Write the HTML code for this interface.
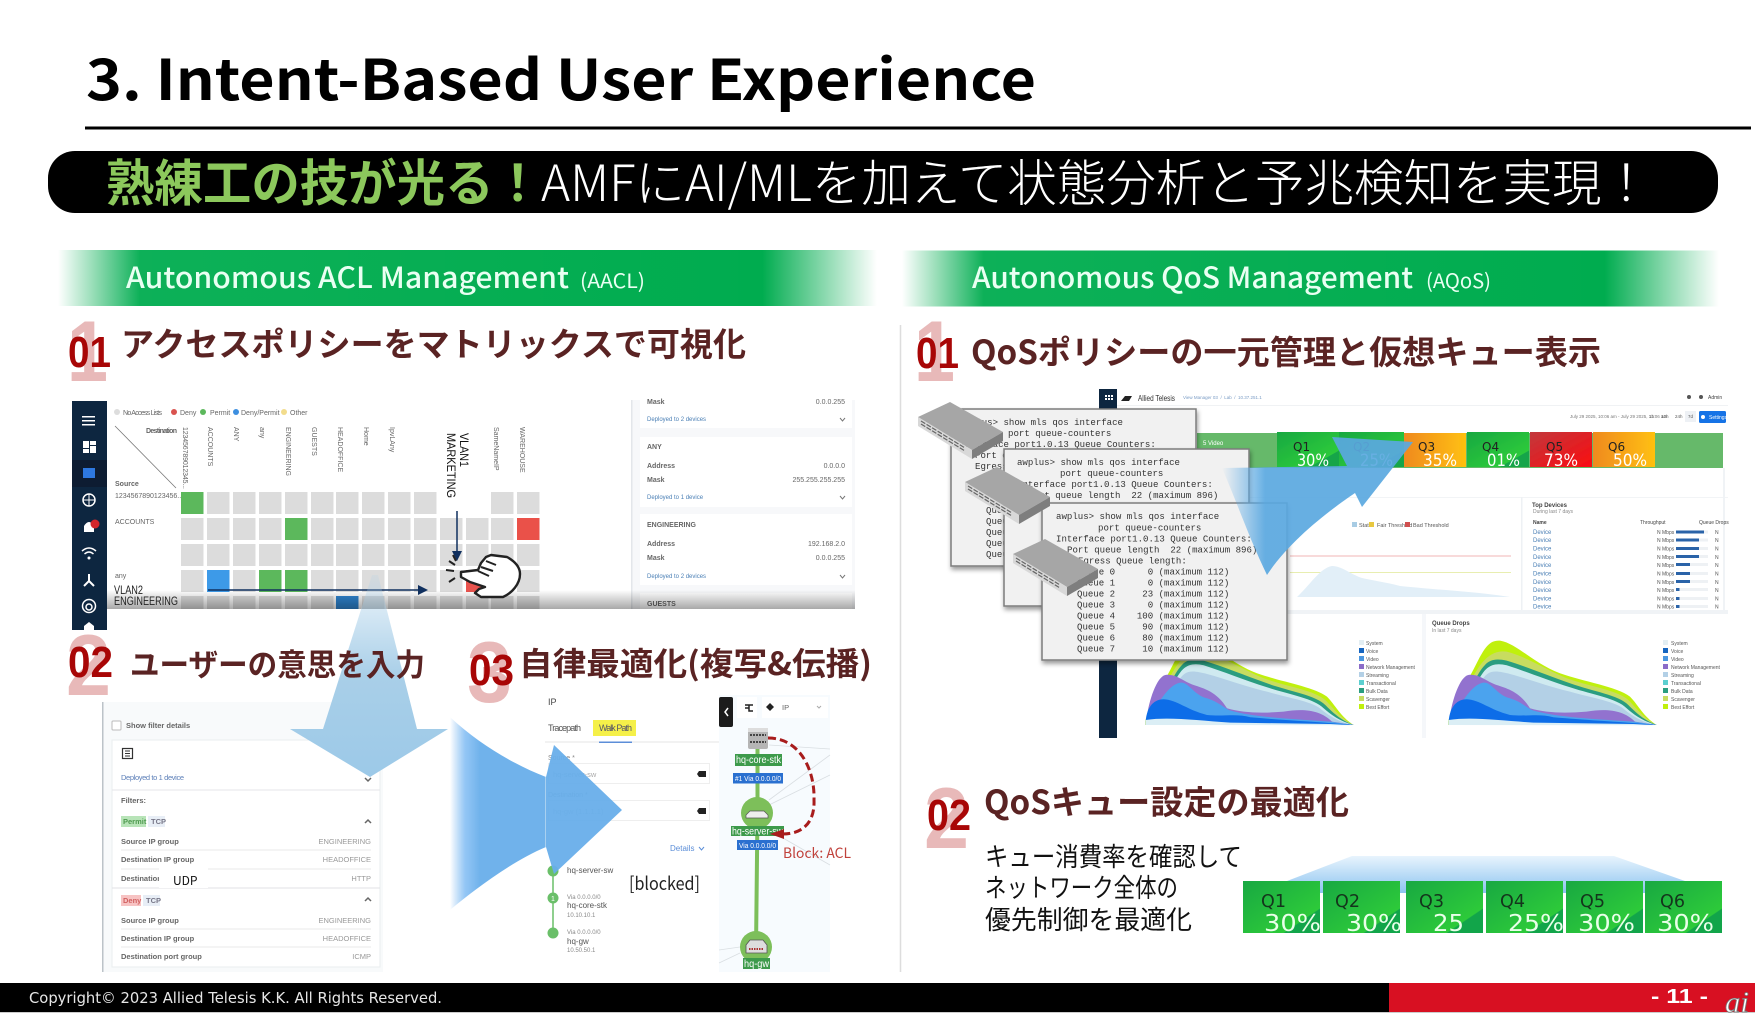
<!DOCTYPE html>
<html lang="ja"><head><meta charset="utf-8"><title>3. Intent-Based User Experience</title>
<style>
html,body{margin:0;padding:0;background:#fff;width:1755px;height:1021px;overflow:hidden}
svg{display:block;position:absolute;left:0;top:0}
text{font-family:"Liberation Sans","Noto Sans CJK JP",sans-serif;white-space:pre}
.j{font-family:"Noto Sans CJK JP","Liberation Sans",sans-serif}
.jb{font-family:"Noto Sans CJK JP","Liberation Sans",sans-serif;font-weight:700}
.h{font-family:"Noto Sans CJK JP","Liberation Sans",sans-serif;font-weight:700;fill:#5a2323}
.pale{font-weight:700;fill:#e8b9b9;font-size:86px}
.num{font-weight:700;fill:#a80606;font-size:44px}
.m{font-family:"Liberation Mono",monospace;font-size:9.07px;fill:#333}
.s{font-size:7px;fill:#666}
.b{font-weight:700}
.t{font-size:7px;fill:#666}
.bl{fill:#5c7fb8}
.f{font-size:7.5px;fill:#666;font-weight:700}
.fr{font-size:7.5px;fill:#999;text-anchor:end}
.d{font-size:6px;fill:#4a7fb5}
.lab{fill:#fff;font-size:10px}
.q{fill:#222;font-size:12px;font-family:"DejaVu Sans",sans-serif}
.p{fill:#fff;font-size:17px;font-family:"DejaVu Sans",sans-serif}
.q2{fill:#14351c;font-size:18px;font-family:"DejaVu Sans",sans-serif}
.p2{fill:#e9ffe9;font-size:23px;font-family:"DejaVu Sans",sans-serif}
</style></head><body>
<svg width="1755" height="1021" viewBox="0 0 1755 1021" xmlns="http://www.w3.org/2000/svg">
<defs>
<linearGradient id="gbar" x1="0" x2="1" y1="0" y2="0"><stop offset="0" stop-color="#00ac4f" stop-opacity="0"/><stop offset=".1" stop-color="#00ac4f" stop-opacity=".95"/><stop offset=".86" stop-color="#00ac4f"/><stop offset="1" stop-color="#00ac4f" stop-opacity="0"/></linearGradient>
<linearGradient id="gdown" x1="0" x2="0" y1="0" y2="1"><stop offset="0" stop-color="#a3cce8" stop-opacity=".15"/><stop offset=".5" stop-color="#a9cfe8"/><stop offset="1" stop-color="#9cc9e8"/></linearGradient>
<linearGradient id="gright" gradientUnits="userSpaceOnUse" x1="450" x2="480" y1="0" y2="0"><stop offset="0" stop-color="#7ab8f0" stop-opacity="0"/><stop offset=".5" stop-color="#88c0f4" stop-opacity=".9"/><stop offset="1" stop-color="#68aeea" stop-opacity=".95"/></linearGradient>
<linearGradient id="gup" gradientUnits="userSpaceOnUse" x1="1222" x2="1265" y1="0" y2="0"><stop offset="0" stop-color="#5aaae8" stop-opacity="0"/><stop offset="1" stop-color="#5aa8e0" stop-opacity=".92"/></linearGradient>
<linearGradient id="gfade" x1="0" x2="0" y1="0" y2="1"><stop offset="0" stop-color="#000" stop-opacity="0"/><stop offset="1" stop-color="#000" stop-opacity=".34"/></linearGradient>
<linearGradient id="gtrap" x1="0" x2="0" y1="0" y2="1"><stop offset="0" stop-color="#e8f4fd"/><stop offset="1" stop-color="#8cc4f0"/></linearGradient>
<linearGradient id="qg" x1="0" x2="1" y1="0" y2="1"><stop offset="0" stop-color="#18a842"/><stop offset=".76" stop-color="#2dca3a"/><stop offset=".77" stop-color="#12a54a"/><stop offset="1" stop-color="#12a54a"/></linearGradient>
<linearGradient id="qo" x1="0" x2="1" y1="0" y2="0"><stop offset="0" stop-color="#ef8a20"/><stop offset="1" stop-color="#ffc010"/></linearGradient>
<linearGradient id="qr" x1="0" x2="1" y1="0" y2="1"><stop offset="0" stop-color="#c2383c"/><stop offset="1" stop-color="#fb0c10"/></linearGradient>
<filter id="sh" x="-10%" y="-10%" width="120%" height="120%"><feDropShadow dx="1" dy="3" stdDeviation="2.5" flood-color="#000" flood-opacity=".4"/></filter>
<filter id="bl"><feGaussianBlur stdDeviation=".35"/></filter>
<g id="sw">
<path d="M918 417 L950 402 L1003 432 L972 450Z" fill="#a6a6a6"/>
<path d="M918 417 L972 450 L972 459 L918 426Z" fill="#d8d8d8"/>
<path d="M972 450 L1003 432 L1003 441 L972 459Z" fill="#7e7e7e"/>
<path d="M921 421 L965 448 M921 424 L965 451" stroke="#666" stroke-width="1.2" stroke-dasharray="5 1.5" fill="none"/>
</g>
<g id="chart" transform="translate(1300 380) scale(.3333)">
<path d="M445 1022C470 960 510 890 530 850C555 800 570 780 600 782C650 790 700 850 780 880C850 905 950 920 990 950C1015 975 1030 1010 1070 1035L445 1035Z" fill="#c0f010"/>
<path d="M460 1022C490 950 520 880 545 850C565 825 590 810 620 815C680 830 740 870 800 895C870 920 950 930 985 960C1010 985 1030 1015 1070 1035L460 1035Z" fill="#c8dc60"/>
<path d="M470 1022C500 950 530 880 555 855C570 838 590 835 620 842C680 860 740 885 810 910C880 935 955 945 985 975C1005 995 1030 1020 1070 1035L470 1035Z" fill="#2a9d80"/>
<path d="M475 1022C505 960 535 890 558 868C575 852 595 850 620 856C680 875 740 900 810 922C880 945 950 955 980 985C1000 1003 1030 1025 1070 1035L475 1035Z" fill="#cfeaf0"/>
<path d="M478 1022C508 965 538 900 562 882C580 870 600 875 630 882C690 898 740 918 810 935C880 955 950 965 975 990C1000 1010 1030 1028 1070 1035L478 1035Z" fill="#b3d0e6"/>
<path d="M448 1022C455 960 480 890 505 885C535 880 560 905 590 915C620 925 660 935 690 985C740 1000 800 1000 860 995C920 985 970 990 1005 1025L1070 1035L448 1035Z" fill="#9272cf"/>
<path d="M450 1022C480 980 510 915 550 908C575 905 590 945 630 955C660 965 670 975 695 990C760 1010 850 1015 1000 1025L1070 1035L450 1035Z" fill="#4ba3ee"/>
<path d="M446 1025C450 975 475 958 500 958C540 960 570 990 630 1005C680 1010 720 1000 760 1012C850 1020 950 1025 1070 1035L446 1035Z" fill="#0e6de8"/>
<path d="M446 1035L446 1020C520 1010 600 1022 700 1028L1000 1032L1070 1036Z" fill="#dbeef5"/>
</g>
</defs>

<!-- title -->
<text x="86" y="100" class="jb" font-size="56" fill="#000" textLength="950" lengthAdjust="spacingAndGlyphs">3. Intent-Based User Experience</text>
<rect x="85" y="126.500" width="1666" height="3" fill="#000"/>
<rect x="48" y="151" width="1670" height="62" rx="27" fill="#000"/>
<text x="106" y="201" class="jb" font-size="50" fill="#8cc85c" textLength="436" lengthAdjust="spacingAndGlyphs">熟練工の技が光る！</text>
<text x="541" y="201" class="j" font-size="50" fill="#fff" font-weight="300" textLength="1110" lengthAdjust="spacingAndGlyphs">AMFにAI/MLを加えて状態分析と予兆検知を実現！</text>

<rect x="58" y="250" width="819" height="56" fill="url(#gbar)"/>
<rect x="902" y="250.500" width="817" height="56" fill="url(#gbar)"/>
<text x="126" y="288" class="j" font-size="29" font-weight="500" fill="#e9fff2" textLength="443" lengthAdjust="spacingAndGlyphs">Autonomous ACL Management</text>
<text x="580" y="288" class="j" font-size="20" fill="#e9fff2" textLength="65" lengthAdjust="spacingAndGlyphs">(AACL)</text>
<text x="972" y="288" class="j" font-size="29" font-weight="500" fill="#e9fff2" textLength="441" lengthAdjust="spacingAndGlyphs">Autonomous QoS Management</text>
<text x="1426" y="288" class="j" font-size="20" fill="#e9fff2" textLength="65" lengthAdjust="spacingAndGlyphs">(AQoS)</text>
<line x1="900.500" y1="325" x2="900.500" y2="972" stroke="#ddd" stroke-width="1.500"/>

<!-- left top screenshot -->
<g filter="url(#bl)">
<rect x="72" y="401" width="35" height="229" fill="#10263f"/>
<rect x="72" y="460" width="35" height="27" fill="#0a1a30"/>
<g fill="#fff">
<rect x="82" y="416" width="13" height="1.500"/><rect x="82" y="420" width="13" height="1.500"/><rect x="82" y="424" width="13" height="1.500"/>
<rect x="83" y="441" width="6" height="7"/><rect x="90" y="441" width="6" height="4"/><rect x="83" y="449" width="6" height="4"/><rect x="90" y="446" width="6" height="7"/>
<rect x="83" y="468" width="12" height="10" fill="#2f78e0"/>
<circle cx="89" cy="500" r="6" fill="none" stroke="#fff" stroke-width="1.500"/><line x1="83" y1="500" x2="95" y2="500" stroke="#fff"/><line x1="89" y1="494" x2="89" y2="506" stroke="#fff"/>
<path d="M84 532 L84 526 Q89 518 94 526 L94 532Z"/><circle cx="95" cy="524" r="4.500" fill="#d3282c"/>
<path d="M82 551 Q89 545 96 551 M84.500 554 Q89 550 93.500 554" fill="none" stroke="#fff" stroke-width="1.500"/><circle cx="89" cy="558" r="1.500"/>
<path d="M89 574 V581 L84 586 M89 581 L94 586" fill="none" stroke="#fff" stroke-width="2"/>
<circle cx="89" cy="606" r="6.500" fill="none" stroke="#fff" stroke-width="1.500"/><circle cx="89" cy="607" r="3" fill="none" stroke="#fff" stroke-width="1.500"/>
<path d="M84 630 L84 626 L89 622 L94 626 L94 630Z"/>
</g>
<rect x="107" y="400" width="748" height="209" fill="#fff"/>
<!-- legend -->
<circle cx="117" cy="412" r="3" fill="#ddd"/><circle cx="174" cy="412" r="3" fill="#d9534f"/><circle cx="203" cy="412" r="3" fill="#5cb85c"/><circle cx="236" cy="412" r="3" fill="#3d8fe0"/><circle cx="284" cy="412" r="3" fill="#f2dc8c"/>
<text class="t" x="123" y="415" textLength="39">No Access Lists</text><text class="t" x="180" y="415">Deny</text><text class="t" x="210" y="415">Permit</text><text class="t" x="241" y="415">Deny/Permit</text><text class="t" x="290" y="415">Other</text>
<text x="146" y="433" class="t b" fill="#444" textLength="31">Destination</text>
<text x="115" y="486" class="t b" fill="#444">Source</text>
<line x1="115" y1="426" x2="176" y2="488" stroke="#777" stroke-width=".8"/>
<text class="t" transform="translate(183 427) rotate(90)" textLength="62">123456789012345...</text>
<text class="t" transform="translate(208 427) rotate(90)">ACCOUNTS</text>
<text class="t" transform="translate(234 427) rotate(90)">ANY</text>
<text class="t" transform="translate(260 427) rotate(90)">any</text>
<text class="t" transform="translate(286 427) rotate(90)">ENGINEERING</text>
<text class="t" transform="translate(312 427) rotate(90)">GUESTS</text>
<text class="t" transform="translate(338 427) rotate(90)">HEADOFFICE</text>
<text class="t" transform="translate(364 427) rotate(90)">Home</text>
<text class="t" transform="translate(390 427) rotate(90)">IpvLAny</text>
<text class="t" transform="translate(494 427) rotate(90)">SameNameIP</text>
<text class="t" transform="translate(520 427) rotate(90)">WAREHOUSE</text>
<text class="t" x="115" y="498">1234567890123456..</text><text class="t" x="115" y="524">ACCOUNTS</text><text class="t" x="115" y="578">any</text>
<!-- grid -->
<g fill="#dcdcdc">
<path d="M181 492h22.500v22h-22.500zM207 492h22.500v22h-22.500zM233 492h22.500v22h-22.500zM259 492h22.500v22h-22.500zM285 492h22.500v22h-22.500zM311 492h22.500v22h-22.500zM336 492h22.500v22h-22.500zM362 492h22.500v22h-22.500zM388 492h22.500v22h-22.500zM414 492h22.500v22h-22.500zM491 492h22.500v22h-22.500zM517 492h22.500v22h-22.500z"/>
<path d="M181 518h22.500v22h-22.500zM207 518h22.500v22h-22.500zM233 518h22.500v22h-22.500zM259 518h22.500v22h-22.500zM311 518h22.500v22h-22.500zM336 518h22.500v22h-22.500zM362 518h22.500v22h-22.500zM388 518h22.500v22h-22.500zM414 518h22.500v22h-22.500zM440 518h22.500v22h-22.500zM466 518h22.500v22h-22.500zM491 518h22.500v22h-22.500z"/>
<path d="M181 544h22.500v22h-22.500zM207 544h22.500v22h-22.500zM233 544h22.500v22h-22.500zM259 544h22.500v22h-22.500zM285 544h22.500v22h-22.500zM311 544h22.500v22h-22.500zM336 544h22.500v22h-22.500zM362 544h22.500v22h-22.500zM388 544h22.500v22h-22.500zM414 544h22.500v22h-22.500zM440 544h22.500v22h-22.500zM466 544h22.500v22h-22.500zM491 544h22.500v22h-22.500zM517 544h22.500v22h-22.500z"/>
<path d="M181 570h22.500v22h-22.500zM233 570h22.500v22h-22.500zM311 570h22.500v22h-22.500zM336 570h22.500v22h-22.500zM362 570h22.500v22h-22.500zM388 570h22.500v22h-22.500zM414 570h22.500v22h-22.500zM440 570h22.500v22h-22.500zM491 570h22.500v22h-22.500zM517 570h22.500v22h-22.500z"/>
<path d="M181 596h22.500v13h-22.500zM207 596h22.500v13h-22.500zM233 596h22.500v13h-22.500zM259 596h22.500v13h-22.500zM285 596h22.500v13h-22.500zM311 596h22.500v13h-22.500zM362 596h22.500v13h-22.500zM388 596h22.500v13h-22.500zM414 596h22.500v13h-22.500zM440 596h22.500v13h-22.500zM466 596h22.500v13h-22.500zM491 596h22.500v13h-22.500zM517 596h22.500v13h-22.500z"/>
</g>
<rect x="181" y="492" width="22.500" height="22" fill="#5cb85c"/>
<rect x="285" y="518" width="22.500" height="22" fill="#5cb85c"/>
<rect x="517" y="518" width="22.500" height="22" fill="#ea5148"/>
<rect x="207" y="570" width="22.500" height="22" fill="#3d9ae8"/>
<rect x="259" y="570" width="22.500" height="22" fill="#5cb85c"/>
<rect x="285" y="570" width="22.500" height="22" fill="#5cb85c"/>
<rect x="466" y="570" width="22.500" height="22" fill="#e9534e"/>
<rect x="336" y="596" width="22.500" height="13" fill="#2f84d0"/>
<!-- right cards -->
<rect x="631" y="400" width="224" height="209" fill="#f7f8fa"/><rect x="631" y="400" width="1.500" height="209" fill="#e3e6ea"/>
<rect x="640" y="400" width="212" height="28" fill="#fff"/><rect x="640" y="437" width="212" height="70" fill="#fff"/><rect x="640" y="514" width="212" height="71" fill="#fff"/><rect x="640" y="593" width="212" height="16" fill="#fff"/>
<text class="t b" x="647" y="404">Mask</text><text class="t" x="845" y="404" text-anchor="end">0.0.0.255</text>
<text class="d" x="647" y="421">Deployed to 2 devices</text>
<text class="t b" x="647" y="449">ANY</text><text class="t b" x="647" y="468">Address</text><text class="t" x="845" y="468" text-anchor="end">0.0.0.0</text>
<text class="t b" x="647" y="482">Mask</text><text class="t" x="845" y="482" text-anchor="end">255.255.255.255</text>
<text class="d" x="647" y="499">Deployed to 1 device</text>
<text class="t b" x="647" y="527">ENGINEERING</text><text class="t b" x="647" y="546">Address</text><text class="t" x="845" y="546" text-anchor="end">192.168.2.0</text>
<text class="t b" x="647" y="560">Mask</text><text class="t" x="845" y="560" text-anchor="end">0.0.0.255</text>
<text class="d" x="647" y="578">Deployed to 2 devices</text>
<text class="t b" x="647" y="606">GUESTS</text>
<path d="M840 418l2.500 3 2.500-3M840 496l2.500 3 2.500-3M840 575l2.500 3 2.500-3" fill="none" stroke="#777"/>
<rect x="107" y="590" width="748" height="19" fill="url(#gfade)"/>
</g>
<text transform="translate(460 433) rotate(90)" font-size="12" fill="#111" textLength="34" lengthAdjust="spacingAndGlyphs">VLAN1</text>
<text transform="translate(447 433) rotate(90)" font-size="12" fill="#111" textLength="65" lengthAdjust="spacingAndGlyphs">MARKETING</text>
<text x="114" y="594" font-size="12" fill="#222" textLength="29" lengthAdjust="spacingAndGlyphs">VLAN2</text>
<text x="114" y="605" font-size="12" fill="#222" textLength="64" lengthAdjust="spacingAndGlyphs">ENGINEERING</text>
<line x1="457" y1="511" x2="457" y2="552" stroke="#10305f" stroke-width="1.500"/><path d="M452 551h10l-5 10z" fill="#10305f"/>
<line x1="208" y1="590" x2="420" y2="590" stroke="#10305f" stroke-width="1.500"/><path d="M418 585v10l10-5z" fill="#10305f"/>
<!-- hand -->
<path d="M461 572L478 570L481 563L486 557L491 555L507 557C516 562 520 568 520 574C520 584 512 593 503 597L481 597L475 593L479 589L485 587L470 582L461 577Z" fill="#fff" stroke="#222" stroke-width="2.400" stroke-linejoin="round"/>
<path d="M486 561L496 565M481 567L493 571M478 571L489 576" stroke="#222" stroke-width="2" fill="none"/>
<path d="M449 561l6 4M446 570l8 1M449 582l6-4M453 555l3 6" stroke="#222" stroke-width="2" fill="none"/>

<!-- headings left -->
<text x="67" y="381" class="pale" textLength="41" lengthAdjust="spacingAndGlyphs">1</text>
<text x="68" y="367" class="num" textLength="43" lengthAdjust="spacingAndGlyphs">01</text>
<text x="121" y="356" class="h" font-size="33" textLength="625" lengthAdjust="spacingAndGlyphs">アクセスポリシーをマトリックスで可視化</text>

<!-- filter panel -->
<g filter="url(#bl)">
<rect x="102" y="702" width="281" height="270" fill="#f8fafb"/><rect x="102" y="702" width="1.500" height="270" fill="#bcc3c8"/>
<rect x="112" y="721" width="9" height="9" rx="1" fill="#fff" stroke="#bbb"/>
<text class="f" x="126" y="728">Show filter details</text>
<rect x="112" y="740" width="268" height="227" fill="#fff" stroke="#eaedef"/>
<rect x="122.500" y="748.500" width="10" height="10" fill="none" stroke="#333" stroke-width="1.200"/><path d="M125 751h5M125 753.500h5M125 756h5" stroke="#333"/>
<text class="bl" font-size="7.500" x="121" y="780" textLength="63">Deployed to 1 device</text>
<path d="M365 778l3 3 3-3" stroke="#666" stroke-width="1.500" fill="none"/>
<line x1="112" y1="790" x2="380" y2="790" stroke="#e4e6e8"/>
<text class="f" x="121" y="803">Filters:</text>
<rect x="121" y="816" width="25" height="11" fill="#b8e4b8"/><text x="123" y="824" font-size="7.500" fill="#4f9a4f" font-weight="700">Permit</text>
<rect x="148" y="816" width="17" height="11" fill="#e8eef6"/><text x="151" y="824" font-size="7.500" fill="#778" font-weight="700">TCP</text>
<path d="M365 823l3-3 3 3M365 901l3-3 3 3" stroke="#666" stroke-width="1.500" fill="none"/>
<text class="f" x="121" y="844">Source IP group</text><text class="fr" x="371" y="844">ENGINEERING</text>
<line x1="121" y1="850" x2="371" y2="850" stroke="#e8e8e8"/>
<text class="f" x="121" y="862">Destination IP group</text><text class="fr" x="371" y="862">HEADOFFICE</text>
<line x1="121" y1="869" x2="371" y2="869" stroke="#e8e8e8"/>
<text class="f" x="121" y="881">Destination port group</text><text class="fr" x="371" y="881">HTTP</text>
<line x1="112" y1="888" x2="380" y2="888" stroke="#e0e2e4"/>
<rect x="121" y="895" width="20" height="11" fill="#f7c3c3"/><text x="123" y="903" font-size="7.500" fill="#d16060" font-weight="700">Deny</text>
<rect x="143" y="895" width="17" height="11" fill="#e8eef6"/><text x="146" y="903" font-size="7.500" fill="#778" font-weight="700">TCP</text>
<text class="f" x="121" y="923">Source IP group</text><text class="fr" x="371" y="923">ENGINEERING</text>
<line x1="121" y1="929" x2="371" y2="929" stroke="#e8e8e8"/>
<text class="f" x="121" y="941">Destination IP group</text><text class="fr" x="371" y="941">HEADOFFICE</text>
<line x1="121" y1="947" x2="371" y2="947" stroke="#e8e8e8"/>
<text class="f" x="121" y="959">Destination port group</text><text class="fr" x="371" y="959">ICMP</text>
</g>
<rect x="159" y="868" width="49" height="20" fill="#fff"/>
<text x="173" y="885" font-size="12" fill="#111" class="j">UDP</text>

<!-- tracepath panel -->
<g filter="url(#bl)">
<text x="548" y="705" font-size="9" fill="#444">IP</text>
<text x="548" y="731" font-size="9" fill="#555" textLength="33">Tracepath</text>
<rect x="593" y="720" width="43" height="16" fill="#f5f04a"/>
<text x="599" y="731" font-size="9" fill="#556" textLength="33">Walk Path</text>
<line x1="545" y1="742" x2="720" y2="742" stroke="#e4e4e4"/><rect x="599" y="741.500" width="33" height="1.500" fill="#5b8ed8"/>
<text x="548" y="760" font-size="7" fill="#888">Source *</text>
<rect x="548.500" y="763.500" width="161" height="20" fill="#fff" stroke="#eee"/><text x="553" y="777" font-size="7.500" fill="#aaa">hq-server-sw</text>
<path d="M699 771h7v6h-7l-2-3z" fill="#222"/>
<text x="548" y="797" font-size="7" fill="#888">Destination *</text>
<rect x="548.500" y="800.500" width="161" height="20" fill="#fff" stroke="#eee"/><text x="553" y="814" font-size="7.500" fill="#bbb">hq-gw (1.1.1.1)</text>
<path d="M699 808h7v6h-7l-2-3z" fill="#222"/>
<text x="670" y="851" font-size="8" fill="#5b8ed8">Details</text><path d="M699 847l2.500 3 2.500-3" stroke="#5b8ed8" fill="none"/>
<line x1="553" y1="871" x2="553" y2="933" stroke="#6abf69" stroke-width="1.500"/>
<circle cx="553" cy="871" r="5.500" fill="#6abf69"/><circle cx="553" cy="898" r="5.500" fill="#6abf69"/><circle cx="553" cy="933" r="5.500" fill="#6abf69"/>
<text x="551" y="901" font-size="7" fill="#fff">1</text>
<text x="567" y="873" font-size="8" fill="#555">hq-server-sw</text>
<text x="567" y="899" font-size="6" fill="#888">Via 0.0.0.0/0</text><text x="567" y="908" font-size="8" fill="#555">hq-core-stk</text><text x="567" y="917" font-size="6" fill="#888">10.10.10.1</text>
<text x="567" y="934" font-size="6" fill="#888">Via 0.0.0.0/0</text><text x="567" y="944" font-size="8" fill="#555">hq-gw</text><text x="567" y="952" font-size="6" fill="#888">10.50.50.1</text>
<rect x="719" y="695" width="111" height="277" fill="#f7fbfe"/>
<rect x="719" y="697" width="14" height="30" rx="2" fill="#1c1c1c"/><path d="M728 708l-3 4 3 4" stroke="#fff" stroke-width="1.500" fill="none"/>
<rect x="737" y="697" width="20" height="21" fill="#fff"/><path d="M745 705h8M749 705v6h4M745 708h4" stroke="#222" stroke-width="1.500" fill="none"/>
<rect x="762" y="697" width="66" height="21" fill="#fff"/><path d="M766 707l4-4 4 4-4 4z" fill="#222"/><text x="782" y="710" font-size="7.500" fill="#666">IP</text><path d="M817 706l2 2 2-2" stroke="#aaa" fill="none"/>
<path d="M769 745L830 749M769 800L830 755M769 805L830 775M769 830L830 865M719 950L740 947M719 963L740 953" stroke="#d9dee2" stroke-width=".8" fill="none"/>
<path d="M757.500 748V810L756 950" stroke="#7dbf5a" stroke-width="4" fill="none"/>
<circle cx="757" cy="813" r="16" fill="#7dbf5a"/><circle cx="756" cy="947" r="16" fill="#7dbf5a"/>
<path d="M746 815l4-4h14l4 4v3h-22z" fill="#eee" stroke="#555" stroke-width=".7"/>
<path d="M746 945l4-5h13l4 5v8h-21z" fill="#ddd" stroke="#555" stroke-width=".8"/><path d="M749 949h15" stroke="#a33" stroke-width="2" stroke-dasharray="1.500 1"/>
<rect x="748" y="728" width="20" height="21" rx="2" fill="#b5b5b5"/><path d="M750 735h16M750 742h16" stroke="#444" stroke-width="2" stroke-dasharray="2 1"/><rect x="748" y="728" width="20" height="4" fill="#ddd"/>
<rect x="735" y="754" width="47" height="12" fill="#3d9a4b"/><text class="lab" x="736" y="763" textLength="45" lengthAdjust="spacingAndGlyphs">hq-core-stk</text>
<rect x="733" y="773" width="50" height="10.500" fill="#2a6fd0"/><text x="735" y="781" font-size="7.500" fill="#fff" textLength="46" lengthAdjust="spacingAndGlyphs">#1 Via 0.0.0.0/0</text>
<rect x="731" y="826" width="53" height="10" fill="#3d9a4b"/><text class="lab" x="732" y="834.500" textLength="51" lengthAdjust="spacingAndGlyphs">hq-server-sw</text>
<rect x="737" y="840" width="41" height="10" fill="#2a6fd0"/><text x="739" y="848" font-size="7.500" fill="#fff" textLength="37" lengthAdjust="spacingAndGlyphs">Via 0.0.0.0/0</text>
<rect x="743" y="958" width="27" height="11" fill="#3d9a4b"/><text class="lab" x="744" y="967" textLength="25" lengthAdjust="spacingAndGlyphs">hq-gw</text>
</g>
<path d="M768 738C800 738 815 770 814 800C815 825 800 834 783 834" fill="none" stroke="#a81c1c" stroke-width="3" stroke-dasharray="8 4"/>
<path d="M784 829L770 834L784 839Z" fill="#a81c1c"/>
<text x="783" y="858" font-size="14" fill="#c0413b" class="j" textLength="68" lengthAdjust="spacingAndGlyphs">Block: ACL</text>
<text x="629" y="890" font-size="18" fill="#222" class="j" textLength="71" lengthAdjust="spacingAndGlyphs">[blocked]</text>

<!-- big arrows -->
<path d="M372 575L378 575L417 729L448 729L370 777L290 729L323 729Z" fill="url(#gdown)"/>
<path d="M450 717C480 745 515 765 546 777L554 745L622 810L554 874L546 847C515 860 480 885 450 910Z" fill="url(#gright)"/>
<line x1="545.500" y1="777" x2="545.500" y2="847" stroke="#a8d0f0" stroke-width="1"/>

<!-- headings 02 03 -->
<text x="66" y="695" class="pale" textLength="45" lengthAdjust="spacingAndGlyphs">2</text>
<text x="68" y="677" class="num" textLength="45" lengthAdjust="spacingAndGlyphs">02</text>
<text x="130" y="676" class="h" font-size="31" textLength="295" lengthAdjust="spacingAndGlyphs">ユーザーの意思を入力</text>
<text x="467" y="702" class="pale" textLength="45" lengthAdjust="spacingAndGlyphs">3</text>
<text x="469" y="685" class="num" textLength="45" lengthAdjust="spacingAndGlyphs">03</text>
<text x="519" y="675" class="h" font-size="32" textLength="353" lengthAdjust="spacingAndGlyphs">自律最適化(複写&amp;伝播)</text>

<!-- right: headings -->
<text x="914" y="381" class="pale" textLength="41" lengthAdjust="spacingAndGlyphs">1</text>
<text x="916" y="368" class="num" textLength="43" lengthAdjust="spacingAndGlyphs">01</text>
<text x="971" y="364" class="h" font-size="33" textLength="630" lengthAdjust="spacingAndGlyphs">QoSポリシーの一元管理と仮想キュー表示</text>

<!-- dashboard -->
<g filter="url(#bl)">
<rect x="1099" y="389" width="18" height="349" fill="#10263f"/>
<path d="M1105 395h2v2h-2zM1108 395h2v2h-2zM1111 395h2v2h-2zM1105 398h2v2h-2zM1108 398h2v2h-2zM1111 398h2v2h-2z" fill="#fff"/>
<rect x="1117" y="389" width="611" height="349" fill="#fff"/>
<rect x="1117" y="405" width="611" height="1" fill="#f0f2f4"/>
<text x="1138" y="401" font-size="8.500" fill="#333" textLength="37" lengthAdjust="spacingAndGlyphs">Allied Telesis</text>
<path d="M1121 401l4-5h7l-3 5z" fill="#222"/>
<text x="1183" y="399" font-size="4.500" fill="#7a9cc5">View Manager 03  /  Lab  /  10.37.251.1</text>
<text x="1708" y="399" font-size="5" fill="#444">Admin</text><circle cx="1689" cy="397" r="2" fill="#555"/><circle cx="1701" cy="397" r="2" fill="#555"/>
<text x="1570" y="418" font-size="4.500" fill="#777">July 29 2025, 10:06 am - July 29 2025, 11:06 am</text>
<text x="1649" y="418" font-size="4.500" fill="#555">1h</text><text x="1661" y="418" font-size="4.500" fill="#555">12h</text><text x="1675" y="418" font-size="4.500" fill="#555">24h</text><rect x="1685" y="411" width="11" height="11" fill="#eef1f5"/><text x="1688" y="418" font-size="4.500" fill="#555">7d</text>
<rect x="1699" y="411" width="27" height="12" rx="1.500" fill="#1273e6"/><text x="1709" y="419" font-size="5" fill="#fff">Settings</text><circle cx="1703" cy="417" r="2" fill="#fff"/>
<rect x="1197" y="433" width="526" height="35" fill="#66b96a"/>
<text x="1203" y="445" font-size="6" fill="#fff">5 Video</text>
<rect x="1277" y="432" width="62" height="35" fill="url(#qg)"/>
<rect x="1339" y="432" width="65" height="35" fill="url(#qg)"/>
<rect x="1404" y="433" width="62" height="34" fill="url(#qo)"/>
<rect x="1467" y="432" width="62" height="35" fill="url(#qg)"/>
<rect x="1530" y="432" width="62" height="35" fill="url(#qr)"/>
<rect x="1593" y="432" width="62" height="35" fill="url(#qo)"/>
</g>
<g>
<text class="q" x="1293" y="451">Q1</text><text class="q" x="1353" y="451">Q2</text><text class="q" x="1418" y="451">Q3</text><text class="q" x="1482" y="451">Q4</text><text class="q" x="1546" y="451">Q5</text><text class="q" x="1608" y="451">Q6</text>
<text class="p" x="1297" y="466" textLength="32" lengthAdjust="spacingAndGlyphs">30%</text><text class="p" x="1360" y="466" textLength="33" lengthAdjust="spacingAndGlyphs">25%</text><text class="p" x="1423" y="466" textLength="34" lengthAdjust="spacingAndGlyphs">35%</text><text class="p" x="1487" y="466" textLength="33" lengthAdjust="spacingAndGlyphs">01%</text><text class="p" x="1544" y="466" textLength="34" lengthAdjust="spacingAndGlyphs">73%</text><text class="p" x="1613" y="466" textLength="34" lengthAdjust="spacingAndGlyphs">50%</text>
</g>
<g filter="url(#bl)">
<!-- line chart panel -->
<rect x="1117" y="497" width="611" height="1" fill="#f2f4f6"/>
<rect x="1150" y="610" width="578" height="4" fill="#f0f3f6"/>
<rect x="1521" y="497" width="1.500" height="113" fill="#eef1f4"/>
<rect x="1723" y="468" width="2" height="146" fill="#f0f3f6"/>
<rect x="1352" y="522" width="5" height="5" fill="#a8cce4"/><text x="1359" y="527" font-size="5.500" fill="#555">Stat</text>
<rect x="1369" y="522" width="5" height="5" fill="#e8c840"/><text x="1377" y="527" font-size="5.500" fill="#555">Fair Threshold</text>
<rect x="1405" y="522" width="5" height="5" fill="#d05050"/><text x="1413" y="527" font-size="5.500" fill="#555">Bad Threshold</text>
<line x1="1290" y1="556" x2="1511" y2="556" stroke="#f0b4b4"/><line x1="1290" y1="572.500" x2="1511" y2="572.500" stroke="#e8eeb0"/>
<path d="M1297 597C1310 585 1320 568 1332 566C1342 566 1350 574 1362 578C1375 581 1385 582 1400 586C1440 590 1480 592 1510 597Z" fill="#e2eff8"/>
<text x="1532" y="507" font-size="6" fill="#444" font-weight="700">Top Devices</text><text x="1533" y="513" font-size="5" fill="#888">During last 7 days</text>
<text x="1533" y="524" font-size="5" fill="#444" font-weight="700">Name</text><text x="1640" y="524" font-size="5" fill="#444">Throughput</text><text x="1699" y="524" font-size="5" fill="#444">Queue Drops</text>
<g>
<rect x="1676" y="530.500" width="32" height="3" fill="#eef1f4"/><rect x="1676" y="538.500" width="32" height="3" fill="#eef1f4"/><rect x="1676" y="547" width="32" height="3" fill="#eef1f4"/><rect x="1676" y="555" width="32" height="3" fill="#eef1f4"/><rect x="1676" y="563" width="32" height="3" fill="#eef1f4"/><rect x="1676" y="572" width="32" height="3" fill="#eef1f4"/><rect x="1676" y="580" width="32" height="3" fill="#eef1f4"/><rect x="1676" y="588" width="32" height="3" fill="#eef1f4"/><rect x="1676" y="597" width="32" height="3" fill="#eef1f4"/><rect x="1676" y="605" width="32" height="3" fill="#eef1f4"/>
</g>
<g fill="#2a63a8">
<rect x="1676" y="530.500" width="28" height="3"/><rect x="1676" y="538.500" width="23" height="3"/><rect x="1676" y="547" width="23" height="3"/><rect x="1676" y="555" width="23" height="3"/><rect x="1676" y="563" width="14" height="3"/><rect x="1676" y="572" width="14" height="3"/><rect x="1676" y="580" width="14" height="3"/><rect x="1676" y="588" width="3.500" height="3"/><rect x="1676" y="597" width="3.500" height="3"/><rect x="1676" y="605" width="3.500" height="3"/>
</g>
<text class="d" x="1533" y="534">Device</text><text class="d" x="1533" y="542">Device</text><text class="d" x="1533" y="550.500">Device</text><text class="d" x="1533" y="559">Device</text><text class="d" x="1533" y="567">Device</text><text class="d" x="1533" y="575.500">Device</text><text class="d" x="1533" y="584">Device</text><text class="d" x="1533" y="592">Device</text><text class="d" x="1533" y="600.500">Device</text><text class="d" x="1533" y="608.500">Device</text>
<g font-size="5" fill="#555">
<text x="1657" y="534">N Mbps</text><text x="1657" y="542">N Mbps</text><text x="1657" y="550.500">N Mbps</text><text x="1657" y="559">N Mbps</text><text x="1657" y="567">N Mbps</text><text x="1657" y="575.500">N Mbps</text><text x="1657" y="584">N Mbps</text><text x="1657" y="592">N Mbps</text><text x="1657" y="600.500">N Mbps</text><text x="1657" y="608.500">N Mbps</text>
<text x="1715" y="534">N</text><text x="1715" y="542">N</text><text x="1715" y="550.500">N</text><text x="1715" y="559">N</text><text x="1715" y="567">N</text><text x="1715" y="575.500">N</text><text x="1715" y="584">N</text><text x="1715" y="592">N</text><text x="1715" y="600.500">N</text><text x="1715" y="608.500">N</text>
</g>
<!-- area charts -->
<rect x="1422" y="614" width="4" height="124" fill="#f5f7fa"/>
<use href="#chart"/>
<use href="#chart" transform="translate(-303 0)"/>
<text x="1432" y="625" font-size="6" fill="#444" font-weight="700">Queue Drops</text><text x="1432" y="632" font-size="5" fill="#888">In last 7 days</text>
<text x="1129" y="625" font-size="6" fill="#444" font-weight="700">Throughput</text>
<g fill="#555" font-size="5">
<rect x="1663" y="640" width="5" height="5" fill="#e3eef3"/><text x="1671" y="645">System</text>
<rect x="1663" y="648" width="5" height="5" fill="#1565c0"/><text x="1671" y="653">Voice</text>
<rect x="1663" y="656" width="5" height="5" fill="#4b97e0"/><text x="1671" y="661">Video</text>
<rect x="1663" y="664" width="5" height="5" fill="#8b6cc8"/><text x="1671" y="669">Network Management</text>
<rect x="1663" y="672" width="5" height="5" fill="#b3d0e6"/><text x="1671" y="677">Streaming</text>
<rect x="1663" y="680" width="5" height="5" fill="#5ccfd0"/><text x="1671" y="685">Transactional</text>
<rect x="1663" y="688" width="5" height="5" fill="#2a9d80"/><text x="1671" y="693">Bulk Data</text>
<rect x="1663" y="696" width="5" height="5" fill="#c8dc60"/><text x="1671" y="701">Scavenger</text>
<rect x="1663" y="704" width="5" height="5" fill="#c0f010"/><text x="1671" y="709">Best Effort</text>
<rect x="1359" y="640" width="5" height="5" fill="#e3eef3"/><text x="1366" y="645">System</text>
<rect x="1359" y="648" width="5" height="5" fill="#1565c0"/><text x="1366" y="653">Voice</text>
<rect x="1359" y="656" width="5" height="5" fill="#4b97e0"/><text x="1366" y="661">Video</text>
<rect x="1359" y="664" width="5" height="5" fill="#8b6cc8"/><text x="1366" y="669">Network Management</text>
<rect x="1359" y="672" width="5" height="5" fill="#b3d0e6"/><text x="1366" y="677">Streaming</text>
<rect x="1359" y="680" width="5" height="5" fill="#5ccfd0"/><text x="1366" y="685">Transactional</text>
<rect x="1359" y="688" width="5" height="5" fill="#2a9d80"/><text x="1366" y="693">Bulk Data</text>
<rect x="1359" y="696" width="5" height="5" fill="#c8dc60"/><text x="1366" y="701">Scavenger</text>
<rect x="1359" y="704" width="5" height="5" fill="#c0f010"/><text x="1366" y="709">Best Effort</text>
</g>
</g>

<!-- terminals -->
<g filter="url(#bl)">
<g filter="url(#sh)"><rect x="951" y="409" width="245" height="157" fill="#f1f1f1" stroke="#7c7c7c" stroke-width="1.500"/></g>
<text class="m" x="960" y="425" textLength="163">awplus&gt; show mls qos interface</text>
<text class="m" x="1008" y="436">port queue-counters</text>
<text class="m" x="960" y="447">Interface port1.0.13 Queue Counters:</text>
<text class="m" x="975" y="458">Port queue length  22 (maximum 896)</text>
<text class="m" x="975" y="469">Egress Queue length:</text>
<text class="m" x="986" y="513">Queue</text><text class="m" x="986" y="524">Queue</text><text class="m" x="986" y="535">Queue</text><text class="m" x="986" y="546">Queue</text><text class="m" x="986" y="557">Queue</text>
<g filter="url(#sh)"><rect x="1004" y="449" width="245" height="157" fill="#f1f1f1" stroke="#7c7c7c" stroke-width="1.500"/></g>
<text class="m" x="1017" y="465" textLength="163">awplus&gt; show mls qos interface</text>
<text class="m" x="1060" y="476">port queue-counters</text>
<text class="m" x="1017" y="487">Interface port1.0.13 Queue Counters:</text>
<text class="m" x="1028" y="498">Port queue length  22 (maximum 896)</text>
<text class="m" x="1040" y="509">Egress Queue length:</text>
<g filter="url(#sh)"><rect x="1042" y="503" width="245" height="157" fill="#f1f1f1" stroke="#7c7c7c" stroke-width="1.500"/></g>
<text class="m" x="1056" y="519">awplus&gt; show mls qos interface</text>
<text class="m" x="1098" y="530.500">port queue-counters</text>
<text class="m" x="1056" y="541.500">Interface port1.0.13 Queue Counters:</text>
<text class="m" x="1067" y="552.500">Port queue length  22 (maximum 896)</text>
<text class="m" x="1078" y="563.500">Egress Queue length:</text>
<text class="m" x="1077" y="574.500">Queue 0      0 (maximum 112)</text>
<text class="m" x="1077" y="585.500">Queue 1      0 (maximum 112)</text>
<text class="m" x="1077" y="596.500">Queue 2     23 (maximum 112)</text>
<text class="m" x="1077" y="607.500">Queue 3      0 (maximum 112)</text>
<text class="m" x="1077" y="618.500">Queue 4    100 (maximum 112)</text>
<text class="m" x="1077" y="629.500">Queue 5     90 (maximum 112)</text>
<text class="m" x="1077" y="640.500">Queue 6     80 (maximum 112)</text>
<text class="m" x="1077" y="651.500">Queue 7     10 (maximum 112)</text>
</g>
<use href="#sw"/>
<use href="#sw" transform="translate(47 65)"/>
<use href="#sw" transform="translate(95 137)"/>
<!-- arrow -->
<path d="M1222 468L1347 466L1332 437L1413 442L1362 507L1355 493C1330 510 1290 540 1267 575C1250 540 1238 505 1222 468Z" fill="url(#gup)"/>

<!-- section 02 right -->
<text x="924" y="848" class="pale" textLength="45" lengthAdjust="spacingAndGlyphs">2</text>
<text x="927" y="830" class="num" textLength="44" lengthAdjust="spacingAndGlyphs">02</text>
<text x="984" y="814" class="h" font-size="33" textLength="365" lengthAdjust="spacingAndGlyphs">QoSキュー設定の最適化</text>
<text x="985" y="866" class="j" font-size="26" fill="#111" textLength="257" lengthAdjust="spacingAndGlyphs">キュー消費率を確認して</text>
<text x="985" y="897" class="j" font-size="26" fill="#111" textLength="193" lengthAdjust="spacingAndGlyphs">ネットワーク全体の</text>
<text x="985" y="929" class="j" font-size="26" fill="#111" textLength="207" lengthAdjust="spacingAndGlyphs">優先制御を最適化</text>
<path d="M1287 881L1352 856H1614L1685 881V893H1287Z" fill="url(#gtrap)"/>
<rect x="1243" y="881" width="77" height="52" fill="url(#qg)"/><rect x="1323" y="881" width="77" height="52" fill="url(#qg)"/><rect x="1406" y="881" width="77" height="52" fill="url(#qg)"/><rect x="1486" y="881" width="77" height="52" fill="url(#qg)"/><rect x="1566" y="881" width="77" height="52" fill="url(#qg)"/><rect x="1645" y="881" width="77" height="52" fill="url(#qg)"/>
<text class="q2" x="1261" y="907" textLength="25" lengthAdjust="spacingAndGlyphs">Q1</text><text class="q2" x="1335" y="907" textLength="25" lengthAdjust="spacingAndGlyphs">Q2</text><text class="q2" x="1419" y="907" textLength="25" lengthAdjust="spacingAndGlyphs">Q3</text><text class="q2" x="1500" y="907" textLength="25" lengthAdjust="spacingAndGlyphs">Q4</text><text class="q2" x="1580" y="907" textLength="25" lengthAdjust="spacingAndGlyphs">Q5</text><text class="q2" x="1660" y="907" textLength="25" lengthAdjust="spacingAndGlyphs">Q6</text>
<text class="p2" x="1264" y="931" textLength="57" lengthAdjust="spacingAndGlyphs">30%</text><text class="p2" x="1346" y="931" textLength="56" lengthAdjust="spacingAndGlyphs">30%</text><text class="p2" x="1433" y="931" textLength="31" lengthAdjust="spacingAndGlyphs">25</text><text class="p2" x="1508" y="931" textLength="56" lengthAdjust="spacingAndGlyphs">25%</text><text class="p2" x="1578" y="931" textLength="57" lengthAdjust="spacingAndGlyphs">30%</text><text class="p2" x="1657" y="931" textLength="57" lengthAdjust="spacingAndGlyphs">30%</text>

<!-- footer -->
<rect x="0" y="983" width="1389" height="29" fill="#000"/>
<rect x="1389" y="983" width="366" height="29" fill="#d81022"/>
<rect x="0" y="1012" width="1755" height="1" fill="#ccc"/>
<text x="29" y="1003" font-size="15" fill="#e6e6e6" style="font-family:'DejaVu Sans',sans-serif" textLength="413" lengthAdjust="spacingAndGlyphs">Copyright© 2023 Allied Telesis K.K. All Rights Reserved.</text>
<text x="1651" y="1003" font-size="20" font-weight="700" fill="#fff" textLength="57" lengthAdjust="spacingAndGlyphs">- 11 -</text>
<text x="1725" y="1012" style="font-family:'Liberation Serif',serif" font-style="italic" font-size="30" fill="#fff" stroke="#777" stroke-width=".8" textLength="24" lengthAdjust="spacingAndGlyphs">ai</text>
</svg>
</body></html>
